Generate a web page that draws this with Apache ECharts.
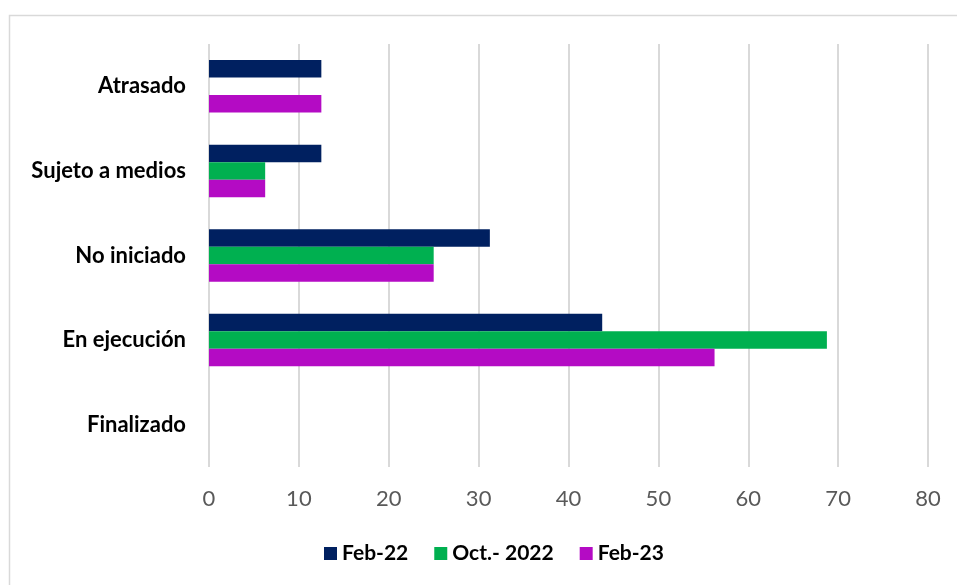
<!DOCTYPE html>
<html>
<head>
<meta charset="utf-8">
<script src="https://cdn.jsdelivr.net/npm/echarts@6/dist/echarts.min.js"></script>
<style>
  html, body { margin: 0; padding: 0; background: #fff; }
  #chart { width: 957px; height: 585px; }
</style>
</head>
<body>
<div id="chart"></div>
<script>
// categories bottom -> top (as the axis draws them)
const categories = ['Finalizado', 'En ejecución', 'No iniciado', 'Sujeto a medios', 'Atrasado'];
const seriesNames = ['Feb-22', 'Oct.- 2022', 'Feb-23'];
const feb22 = [0, 43.75, 31.25, 12.5, 12.5];
const oct22 = [0, 68.75, 25, 6.25, 0];
const feb23 = [0, 56.25, 25, 6.25, 12.5];
const colors = ['#002060', '#00B050', '#B40BC4'];

const chart = echarts.init(document.getElementById('chart'));

const makeSeries = (name, data, color) => ({
  name,
  type: 'bar',
  data,
  barWidth: 17.5,
  barGap: '0%',
  itemStyle: { color },
  emphasis: { disabled: true }
});

chart.setOption({
  animation: false,
  textStyle: { fontFamily: 'Lato' },
  graphic: [{
    type: 'rect',
    shape: { x: 9.5, y: 15.5, width: 1000, height: 700 },
    style: { fill: 'none', stroke: '#d9d9d9', lineWidth: 1.5 },
    silent: true
  }],
  grid: { left: 209, right: 29, top: 44, bottom: 118 },
  legend: {
    bottom: 16,
    left: 319,
    itemWidth: 13,
    itemHeight: 13,
    itemGap: 26,
    icon: 'rect',
    textStyle: { fontSize: 21, fontWeight: 'bold', color: '#000' },
    data: seriesNames
  },
  xAxis: {
    type: 'value',
    min: 0,
    max: 80,
    interval: 10,
    axisLine: { show: false },
    axisTick: { show: false },
    axisLabel: { fontSize: 22, color: '#595959', margin: 21 },
    splitLine: { lineStyle: { color: '#d9d9d9', width: 2 } }
  },
  yAxis: {
    type: 'category',
    data: categories,
    axisLine: { show: false },
    axisTick: { show: false },
    axisLabel: { fontSize: 22, fontWeight: 'bold', color: '#000', margin: 23 }
  },
  series: [
    makeSeries(seriesNames[0], feb22, colors[0]),
    makeSeries(seriesNames[1], oct22, colors[1]),
    makeSeries(seriesNames[2], feb23, colors[2])
  ]
});
</script>
</body>
</html>
